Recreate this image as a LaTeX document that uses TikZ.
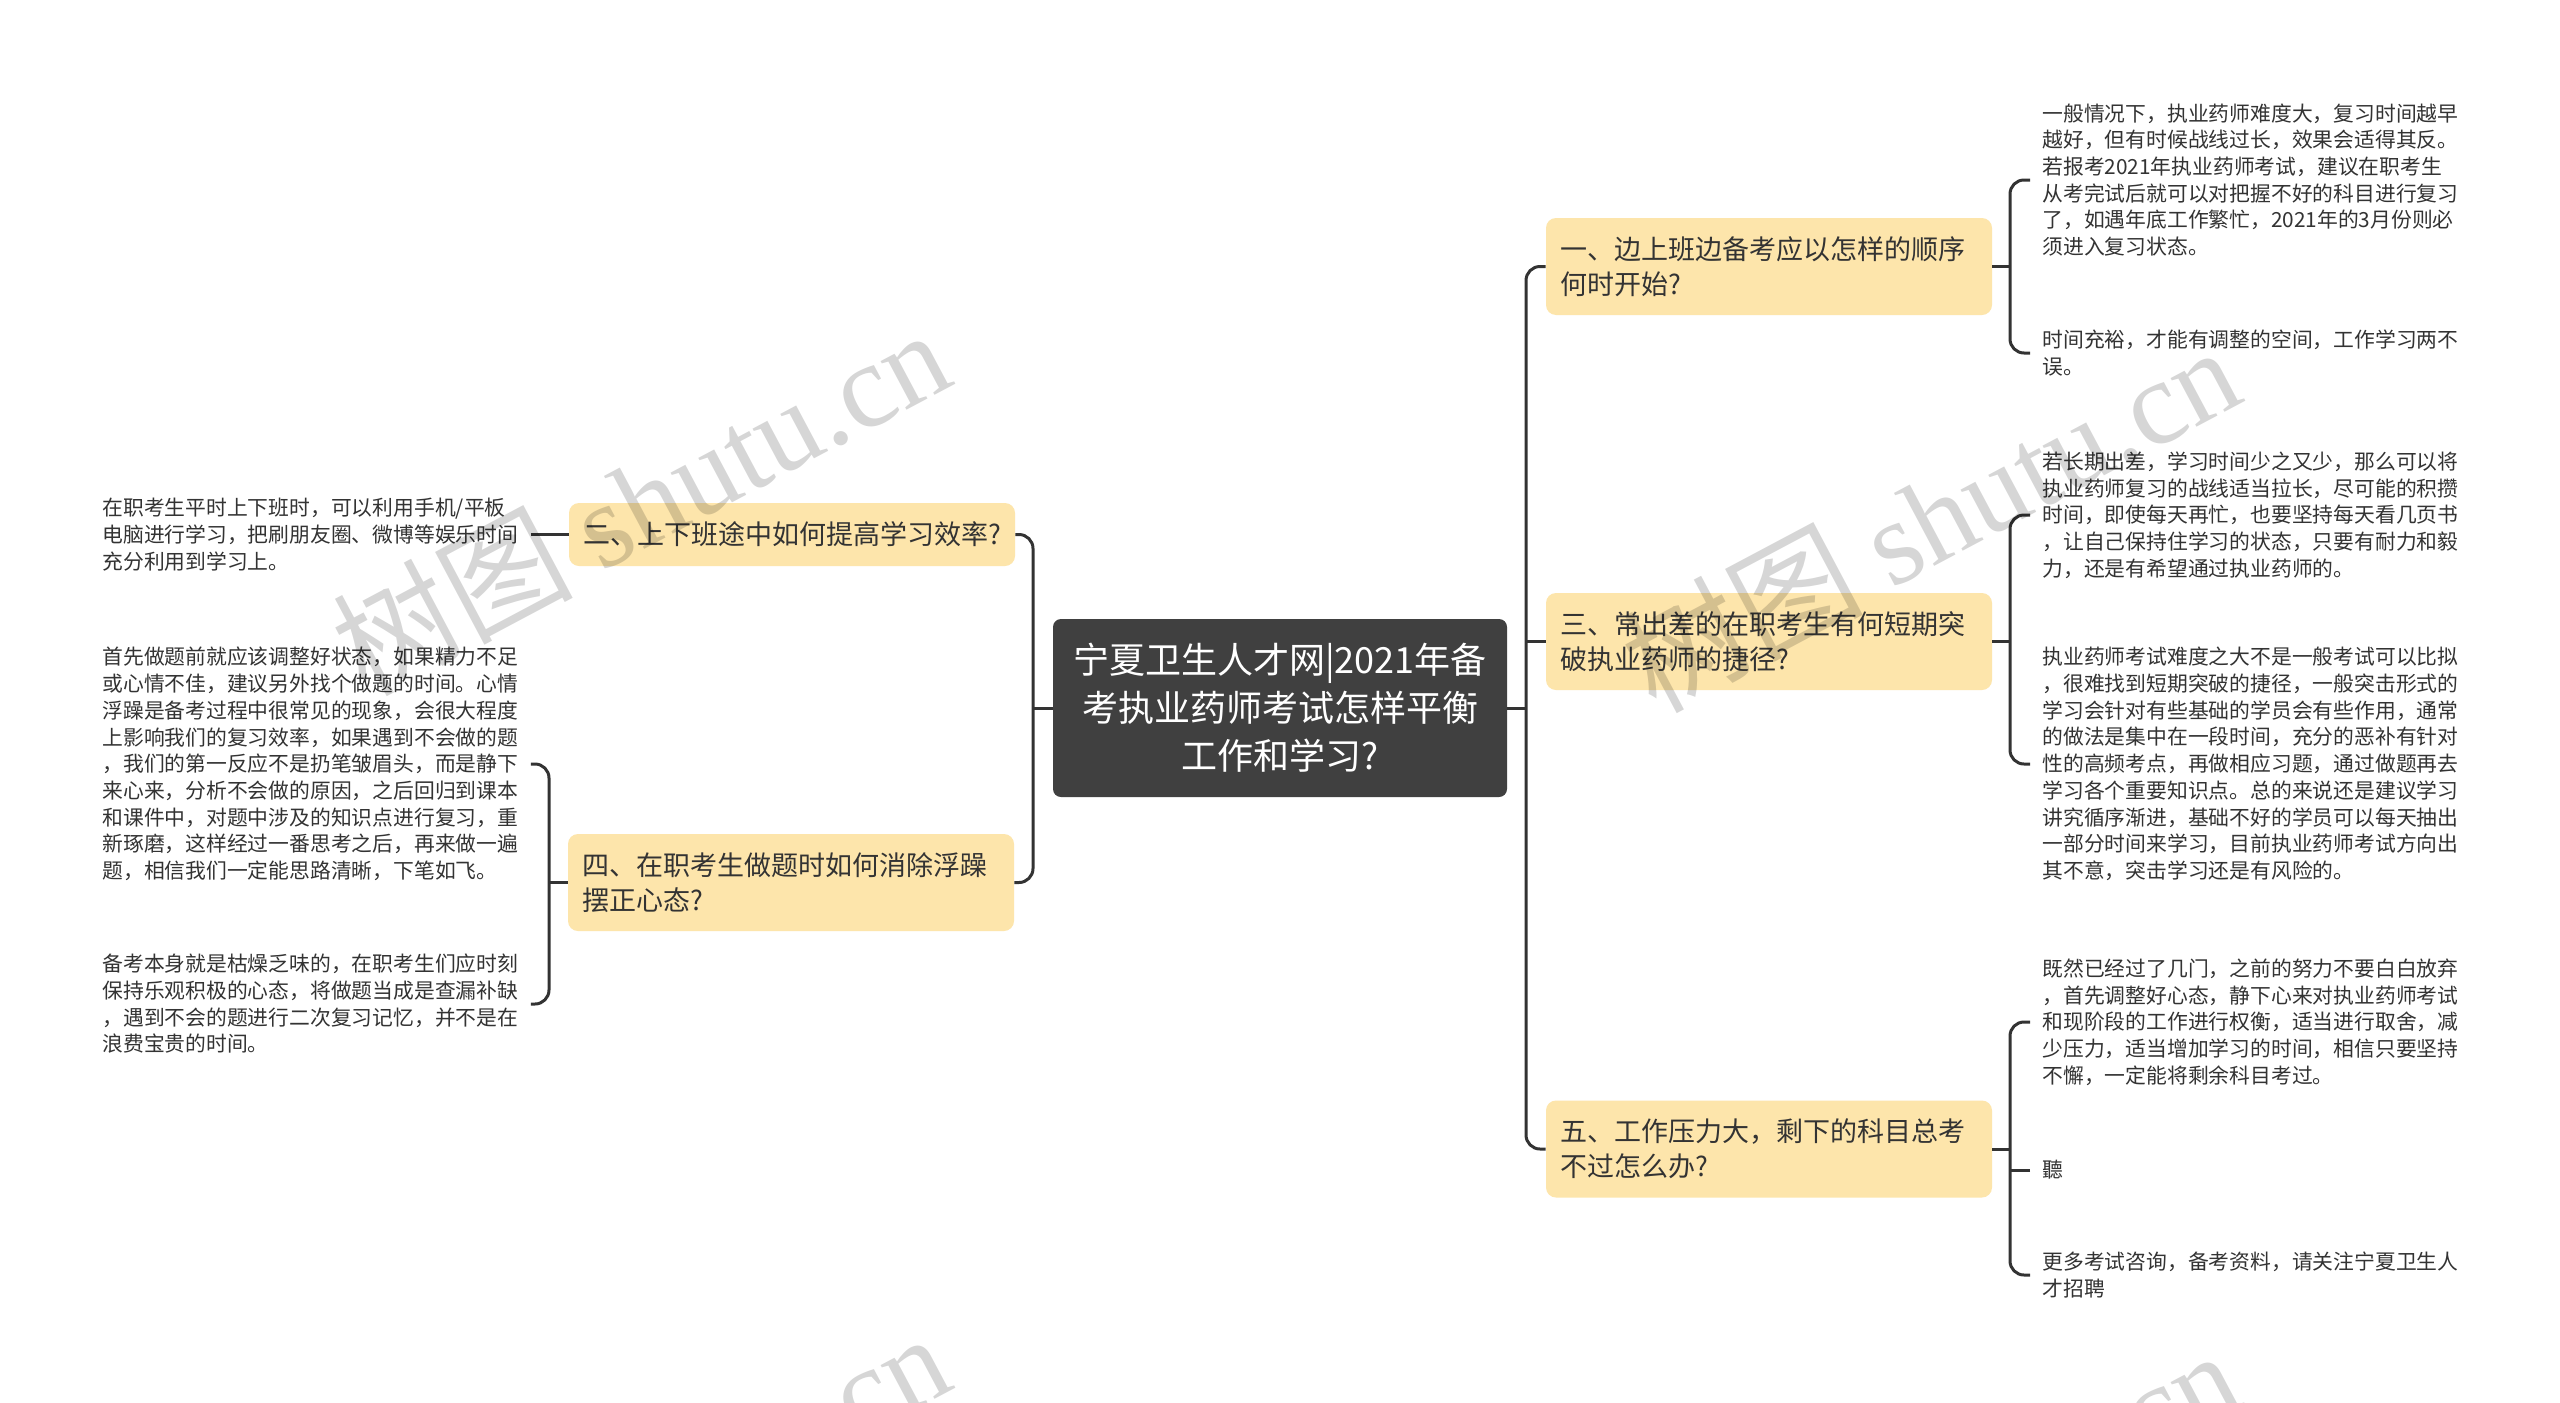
\documentclass[tikz,border=0pt]{standalone}
\usepackage{fontspec}
\setmainfont{Noto Sans CJK SC}
\newfontfamily\wmserif{Liberation Serif}
\definecolor{branchfill}{HTML}{FDE5AB}
\definecolor{rootfill}{HTML}{404040}
\definecolor{linecol}{HTML}{333333}
\definecolor{txtcol}{HTML}{333333}
\begin{document}
\begin{tikzpicture}[x=0.5pt,y=-0.5pt,
  conn/.style={draw=linecol, line width=1.5pt, rounded corners=7pt},
  root/.style={fill=rootfill, text=white, rounded corners=4pt, minimum width=227pt,
    minimum height=89pt, align=center, inner sep=0pt, font=\fontsize{18pt}{24pt}\selectfont},
  branch/.style={fill=branchfill, text=txtcol, rounded corners=5pt, text width=209pt,
    inner xsep=7pt, inner ysep=0pt, align=left, font=\fontsize{13.5pt}{17.5pt}\selectfont},
  leaf/.style={text=txtcol, text width=208pt, inner xsep=6pt, inner ysep=2pt, align=left,
    anchor=west, font=\fontsize{10.4pt}{13.35pt}\selectfont},
  wm/.style={text=black, opacity=0.16, inner sep=0pt, font=\fontsize{60pt}{60pt}\selectfont}
]
\useasboundingbox (0,0) rectangle (2560,1403);
\fill[white] (0,0) rectangle (2560,1403);

% root
\node[root] (root) at (1280,708) {宁夏卫生人才网|2021年备\\考执业药师考试怎样平衡\\工作和学习?};

% branches
\node[branch, minimum height=48.5pt] (n1) at (1769,266.5) {一、边上班边备考应以怎样的顺序\\何时开始?};
\node[branch, minimum height=48.5pt] (n3) at (1769,641.5) {三、常出差的在职考生有何短期突\\破执业药师的捷径?};
\node[branch, minimum height=48.5pt] (n5) at (1769,1149) {五、工作压力大，剩下的科目总考\\不过怎么办?};
\node[branch, minimum height=31.5pt] (n2) at (792,534.5) {二、上下班途中如何提高学习效率?};
\node[branch, minimum height=48.5pt] (n4) at (791,882.5) {四、在职考生做题时如何消除浮躁\\摆正心态?};

% right leaves
\node[leaf] (l1a) at (2030,180) {一般情况下，执业药师难度大，复习时间越早\\越好，但有时候战线过长，效果会适得其反。\\若报考2021年执业药师考试，建议在职考生\\从考完试后就可以对把握不好的科目进行复习\\了，如遇年底工作繁忙，2021年的3月份则必\\须进入复习状态。};
\node[leaf] (l1b) at (2030,353) {时间充裕，才能有调整的空间，工作学习两不\\误。};
\node[leaf] (l3a) at (2030,515) {若长期出差，学习时间少之又少，那么可以将\\执业药师复习的战线适当拉长，尽可能的积攒\\时间，即使每天再忙，也要坚持每天看几页书\\，让自己保持住学习的状态，只要有耐力和毅\\力，还是有希望通过执业药师的。};
\node[leaf] (l3b) at (2030,764) {执业药师考试难度之大不是一般考试可以比拟\\，很难找到短期突破的捷径，一般突击形式的\\学习会针对有些基础的学员会有些作用，通常\\的做法是集中在一段时间，充分的恶补有针对\\性的高频考点，再做相应习题，通过做题再去\\学习各个重要知识点。总的来说还是建议学习\\讲究循序渐进，基础不好的学员可以每天抽出\\一部分时间来学习，目前执业药师考试方向出\\其不意，突击学习还是有风险的。};
\node[leaf] (l5a) at (2030,1022) {既然已经过了几门，之前的努力不要白白放弃\\，首先调整好心态，静下心来对执业药师考试\\和现阶段的工作进行权衡，适当进行取舍，减\\少压力，适当增加学习的时间，相信只要坚持\\不懈，一定能将剩余科目考过。};
\node[leaf] (l5b) at (2030,1170) {聽};
\node[leaf] (l5c) at (2030,1275) {更多考试咨询，备考资料，请关注宁夏卫生人\\才招聘};

% left leaves
\node[leaf] (l2a) at (90,534.5) {在职考生平时上下班时，可以利用手机/平板\\电脑进行学习，把刷朋友圈、微博等娱乐时间\\充分利用到学习上。};
\node[leaf] (l4a) at (90,764) {首先做题前就应该调整好状态，如果精力不足\\或心情不佳，建议另外找个做题的时间。心情\\浮躁是备考过程中很常见的现象，会很大程度\\上影响我们的复习效率，如果遇到不会做的题\\，我们的第一反应不是扔笔皱眉头，而是静下\\来心来，分析不会做的原因，之后回归到课本\\和课件中，对题中涉及的知识点进行复习，重\\新琢磨，这样经过一番思考之后，再来做一遍\\题，相信我们一定能思路清晰，下笔如飞。};
\node[leaf] (l4b) at (90,1004) {备考本身就是枯燥乏味的，在职考生们应时刻\\保持乐观积极的心态，将做题当成是查漏补缺\\，遇到不会的题进行二次复习记忆，并不是在\\浪费宝贵的时间。};

% spines
\coordinate (sR) at (1526,708);
\coordinate (sL) at (1033,708);
\coordinate (s1) at (2010,266.5);
\coordinate (s3) at (2010,641.5);
\coordinate (s5) at (2010,1149);
\coordinate (s4) at (549,882.5);

% connectors
\draw[conn] (root.east) -- (sR);
\draw[conn] (n1.west) -| (sR) |- (n5.west);
\draw[conn] (n3.west) -- (n3.west -| sR);
\draw[conn] (root.west) -- (sL);
\draw[conn] (n2.east) -| (sL) |- (n4.east);

\draw[conn] (n1.east) -- (s1);
\draw[conn] (l1a.west) -| (s1) |- (l1b.west);
\draw[conn] (n3.east) -- (s3);
\draw[conn] (l3a.west) -| (s3) |- (l3b.west);
\draw[conn] (n5.east) -- (s5);
\draw[conn] (l5a.west) -| (s5) |- (l5c.west);
\draw[conn] (l5b.west) -- (l5b.west -| s5);

\draw[conn] (l2a.east) -- (n2.west);
\draw[conn] (n4.west) -- (s4);
\draw[conn] (l4a.east) -| (s4) |- (l4b.east);

% watermarks
\begin{scope}
\clip (0,0) rectangle (2560,1403);
\node[wm, rotate=28] (w1) at (640,500) {树图 {\wmserif shutu.cn}};
\node[wm, rotate=28] (w2) at (1930,517) {树图 {\wmserif shutu.cn}};
\node[wm, rotate=28] (w3) at (640,1504) {树图 {\wmserif shutu.cn}};
\node[wm, rotate=28] (w4) at (1930,1521) {树图 {\wmserif shutu.cn}};
\end{scope}
\end{tikzpicture}
\end{document}
